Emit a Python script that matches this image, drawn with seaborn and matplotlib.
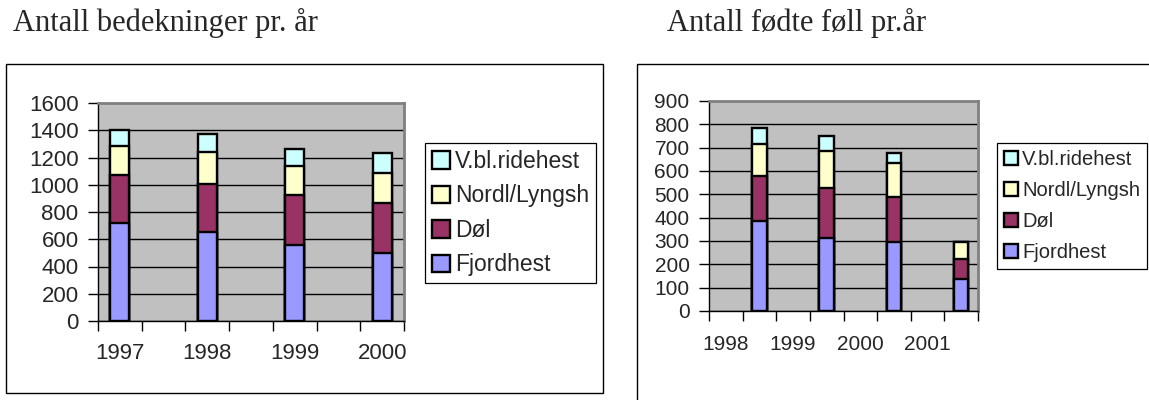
import numpy as np
import pandas as pd
import matplotlib
matplotlib.use("Agg")
import matplotlib.pyplot as plt
from matplotlib.patches import Rectangle
from matplotlib.ticker import FixedLocator
import seaborn as sns

# data (stack order bottom -> top)
breeds = ['Fjordhest', 'Døl', 'Nordl/Lyngsh', 'V.bl.ridehest']
colors = {'Fjordhest': '#9999FF', 'Døl': '#993366',
          'Nordl/Lyngsh': '#FFFFCC', 'V.bl.ridehest': '#CCFFFF'}

left_years = ['1997', '1998', '1999', '2000']
left_fjord = [718, 652, 559, 497]
left_dol = [355, 353, 367, 368]
left_nordl = [213, 235, 208, 220]
left_vbl = [115, 135, 130, 147]

right_years = ['1998', '1999', '2000', '2001']
right_fjord = [386, 314, 296, 139]
right_dol = [194, 215, 193, 82]
right_nordl = [136, 158, 144, 75]
right_vbl = [67, 64, 46, 0]

left_title = 'Antall bedekninger pr. år'
right_title = 'Antall fødte føll pr.år'

W, H = 1149, 400

sns.set_style("white")
plt.rcParams['font.family'] = ['Liberation Sans', 'DejaVu Sans']


def stacked_df(years, series):
    rows = []
    cum = np.zeros(len(years))
    for breed, vals in zip(breeds, series):
        cum = cum + np.array(vals, dtype=float)
        for yr, c in zip(years, cum):
            rows.append({'year': yr, 'breed': breed, 'cum': c})
    return pd.DataFrame(rows)


def draw_panel(ax, df, order, label_pos, labels, ymax, ystep, fs, legend_fs,
               legend_xy, labelspacing, xpad, handle, borderpad):
    sns.barplot(data=df, x='year', y='cum', hue='breed', order=order,
                hue_order=breeds[::-1], palette=colors, dodge=False,
                width=0.43, saturation=1, edgecolor='black', linewidth=1.7,
                errorbar=None, ax=ax)
    ax.set_facecolor('#C0C0C0')
    ax.set_axisbelow(True)
    ax.set_xlim(-0.5, len(order) - 0.5)
    ax.set_ylim(0, ymax)
    ax.set_yticks(np.arange(0, ymax + 1, ystep))
    ax.yaxis.grid(True, color='black', linewidth=1.0)
    ax.get_ygridlines()[-1].set_visible(False)
    ax.xaxis.grid(False)

    ax.set_xticks(label_pos)
    ax.set_xticklabels(labels)
    ax.xaxis.set_minor_locator(FixedLocator(np.arange(-0.5, len(order), 1.0)))
    ax.tick_params(axis='x', which='major', length=0, pad=xpad, labelsize=fs)
    ax.tick_params(axis='x', which='minor', length=7, width=1, direction='out',
                   color='black', bottom=True)
    ax.tick_params(axis='y', length=7, width=1, direction='out', pad=7,
                   labelsize=fs, left=True, color='black')
    ax.set_xlabel('')
    ax.set_ylabel('')

    for side in ['left', 'bottom']:
        ax.spines[side].set_color('black')
        ax.spines[side].set_linewidth(1.0)
    for side in ['top', 'right']:
        ax.spines[side].set_color('#808080')
        ax.spines[side].set_linewidth(2.0)

    handles, labs = ax.get_legend_handles_labels()
    ax.legend(handles, labs, loc='upper left',
              bbox_to_anchor=(legend_xy[0] / W, 1 - legend_xy[1] / H),
              bbox_transform=ax.figure.transFigure, frameon=True,
              fancybox=False, edgecolor='black', framealpha=1,
              fontsize=legend_fs, handlelength=handle, handleheight=handle,
              handletextpad=0.2, labelspacing=labelspacing,
              borderpad=borderpad, borderaxespad=0)
    ax.get_legend().get_frame().set_linewidth(0.9)


fig = plt.figure(figsize=(W / 100, H / 100), dpi=100)
fig.patch.set_facecolor('white')

# outer chart frames
fig.add_artist(Rectangle((6 / W, 1 - 393 / H), 597 / W, 329 / H,
                         transform=fig.transFigure, fill=False,
                         ec='black', lw=1.0))
fig.add_artist(Rectangle((637 / W, 1 - 430 / H), 600 / W, 366 / H,
                         transform=fig.transFigure, fill=False,
                         ec='black', lw=1.0))

ax1 = fig.add_axes([98 / W, 1 - 321 / H, 306 / W, 218 / H])
ax2 = fig.add_axes([709 / W, 1 - 311 / H, 269 / W, 210 / H])

# left: each year followed by an empty slot
left_order = []
for i, yr in enumerate(left_years):
    left_order.append(yr)
    if i < len(left_years) - 1:
        left_order.append('_gap%d' % i)
left_pos = [left_order.index(y) for y in left_years]
draw_panel(ax1, stacked_df(left_years, [left_fjord, left_dol, left_nordl, left_vbl]),
           left_order, left_pos, left_years, 1600, 200, 16, 16.5,
           (425, 143), 0.5, 16, 0.8, 0.3)

# right: an empty slot before each year, labels sit on that slot
right_order = []
for i, yr in enumerate(right_years):
    right_order.append('_gap%d' % i)
    right_order.append(yr)
right_pos = [right_order.index(y) - 1 for y in right_years]
draw_panel(ax2, stacked_df(right_years, [right_fjord, right_dol, right_nordl, right_vbl]),
           right_order, right_pos, right_years, 900, 100, 15, 14.5,
           (997, 143), 0.6, 17, 0.7, 0.35)

fig.text(13 / W, 1 - 31 / H, left_title, family='Liberation Serif',
         fontsize=22, va='baseline', ha='left')
fig.text(667 / W, 1 - 31 / H, right_title, family='Liberation Serif',
         fontsize=22, va='baseline', ha='left')

fig.savefig('out.png', dpi=100)
